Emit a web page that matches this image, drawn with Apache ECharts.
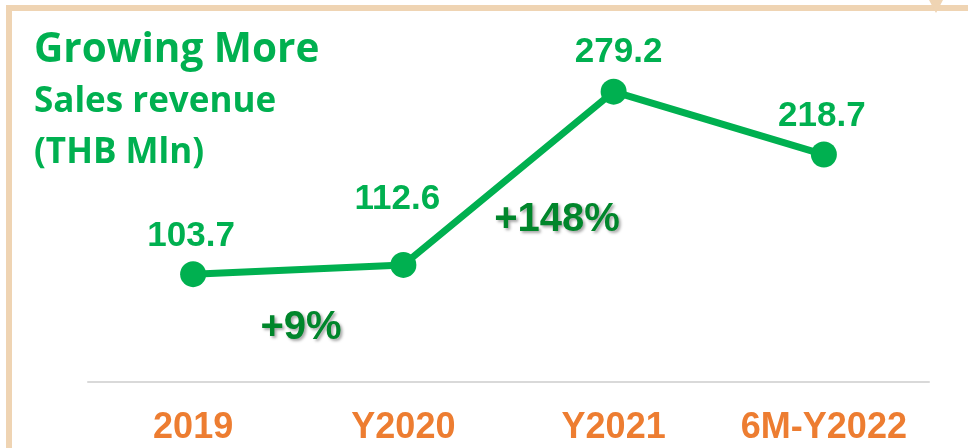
<!DOCTYPE html>
<html>
<head>
<meta charset="utf-8">
<script src="https://cdn.jsdelivr.net/npm/echarts@6/dist/echarts.min.js"></script>
<style>
    html, body { margin: 0; padding: 0; background: #fff; }
    #chart { width: 968px; height: 448px; }
</style>
</head>
<body>
<div id="chart"></div>
<script>
    // data
    var categories = ['2019', 'Y2020', 'Y2021', '6M-Y2022'];
    var revenue = [103.7, 112.6, 279.2, 218.7];
    var growthTexts = ['+9%', '+148%'];

    // label nudges so each value sits where the slide put it
    var labelNudge = [
        {distance: 7, offset: [-2, 0]},
        {distance: 35, offset: [-6, 0]},
        {distance: 9, offset: [5, 0]},
        {distance: 8, offset: [-2, 0]}
    ];

    var green = '#00B050';
    var darkGreen = '#00862B';
    var orange = '#ED7D31';
    var frame = '#EFD4B3';
    var headFont = '"Open Sans", "Noto Sans", sans-serif';

    var chart = echarts.init(document.getElementById('chart'));

    var points = revenue.map(function (v, i) {
        return {
            value: v,
            label: {distance: labelNudge[i].distance, offset: labelNudge[i].offset}
        };
    });

    var growthStyle = {
        fill: darkGreen,
        font: 'bold 40px "Liberation Sans", Arial, sans-serif',
        align: 'center',
        verticalAlign: 'middle',
        textShadowColor: 'rgba(0,0,0,0.35)',
        textShadowBlur: 3,
        textShadowOffsetX: 2,
        textShadowOffsetY: 2
    };

    chart.setOption({
        animation: false,
        grid: {left: 88, right: 39, top: 18, bottom: 66},
        xAxis: {
            type: 'category',
            boundaryGap: true,
            data: categories,
            axisLine: {lineStyle: {color: '#D9D9D9', width: 2}},
            axisTick: {show: false},
            axisLabel: {
                interval: 0,
                color: orange,
                fontFamily: '"Liberation Sans", Arial, sans-serif',
                fontWeight: 'bold',
                fontSize: 36,
                margin: 28
            }
        },
        yAxis: {
            type: 'value',
            min: 0,
            max: 350,
            show: false
        },
        series: [{
            type: 'line',
            data: points,
            symbol: 'circle',
            symbolSize: 26,
            lineStyle: {color: green, width: 7},
            itemStyle: {color: green},
            label: {
                show: true,
                position: 'top',
                color: green,
                fontFamily: '"Liberation Sans", Arial, sans-serif',
                fontWeight: 'bold',
                fontSize: 35
            }
        }],
        graphic: [
            // slide frame
            {type: 'rect', shape: {x: 6, y: 5, width: 6, height: 443}, style: {fill: frame}},
            {type: 'rect', shape: {x: 6, y: 5, width: 962, height: 6}, style: {fill: frame}},
            {type: 'polygon', shape: {points: [[929, 0], [943, 0], [936, 13]]}, style: {fill: frame}},
            // headings
            {type: 'text', x: 34, y: 50, style: {
                text: 'Growing More', fill: green, verticalAlign: 'middle',
                font: 'bold 40.5px ' + headFont
            }},
            {type: 'text', x: 34, y: 102, style: {
                text: 'Sales revenue', fill: green, verticalAlign: 'middle',
                font: 'bold 35px ' + headFont
            }},
            {type: 'text', x: 34, y: 153, style: {
                text: '(THB Mln)', fill: green, verticalAlign: 'middle',
                font: 'bold 35px ' + headFont
            }},
            // growth call-outs
            {type: 'text', x: 301, y: 328, style: Object.assign({text: growthTexts[0]}, growthStyle)},
            {type: 'text', x: 557, y: 220, style: Object.assign({text: growthTexts[1]}, growthStyle)}
        ]
    });
</script>
</body>
</html>
